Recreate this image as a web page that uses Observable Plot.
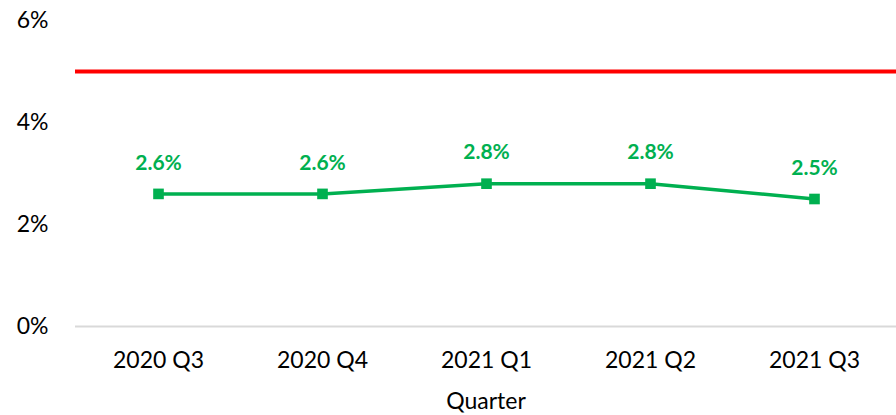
<!DOCTYPE html>
<html>
<head>
<meta charset="utf-8">
<script src="https://cdn.jsdelivr.net/npm/d3@7"></script>
<script src="https://cdn.jsdelivr.net/npm/@observablehq/plot@0.6"></script>
<style>
  html, body { margin: 0; padding: 0; background: #fff; }
  #chart { width: 896px; height: 415px; }
  svg { font-family: Lato, "Open Sans", sans-serif; }
</style>
</head>
<body>
<div id="chart"></div>
<script>
const quarters = ["2020 Q3", "2020 Q4", "2021 Q1", "2021 Q2", "2021 Q3"];
const rates = [2.6, 2.6, 2.8, 2.8, 2.5];
const targetRate = 5;
const yTicks = [0, 2, 4, 6];

const data = quarters.map((q, i) => ({ quarter: q, rate: rates[i] }));

const chart = Plot.plot({
  width: 896,
  height: 415,
  marginLeft: 75,
  marginRight: 0,
  marginTop: 20,
  marginBottom: 89,
  style: { fontFamily: "Lato, 'Open Sans', sans-serif", fontSize: "23px", color: "#000", background: "#fff" },
  x: { type: "point", domain: quarters, padding: 0.5 },
  y: { domain: [0, 6] },
  marks: [
    Plot.axisY({ ticks: yTicks, tickSize: 0, tickPadding: 27, tickFormat: d => d + "%", label: null, fontSize: 23 }),
    Plot.axisX({ tickSize: 0, tickPadding: 25, fontSize: 23, label: "Quarter", labelAnchor: "center", labelOffset: 82 }),
    Plot.ruleY([0], { stroke: "#D9D9D9", strokeWidth: 2 }),
    Plot.ruleY([targetRate], { stroke: "#FF0000", strokeWidth: 4 }),
    Plot.line(data, { x: "quarter", y: "rate", stroke: "#00B050", strokeWidth: 3.5 }),
    Plot.dot(data, { x: "quarter", y: "rate", symbol: "square", r: 6, fill: "#00B050", stroke: "none" }),
    Plot.text(data, { x: "quarter", y: "rate", text: d => d.rate.toFixed(1) + "%", dy: -31, fill: "#00B050", fontWeight: "bold", fontSize: 21 })
  ]
});
document.getElementById("chart").appendChild(chart);
</script>
</body>
</html>
